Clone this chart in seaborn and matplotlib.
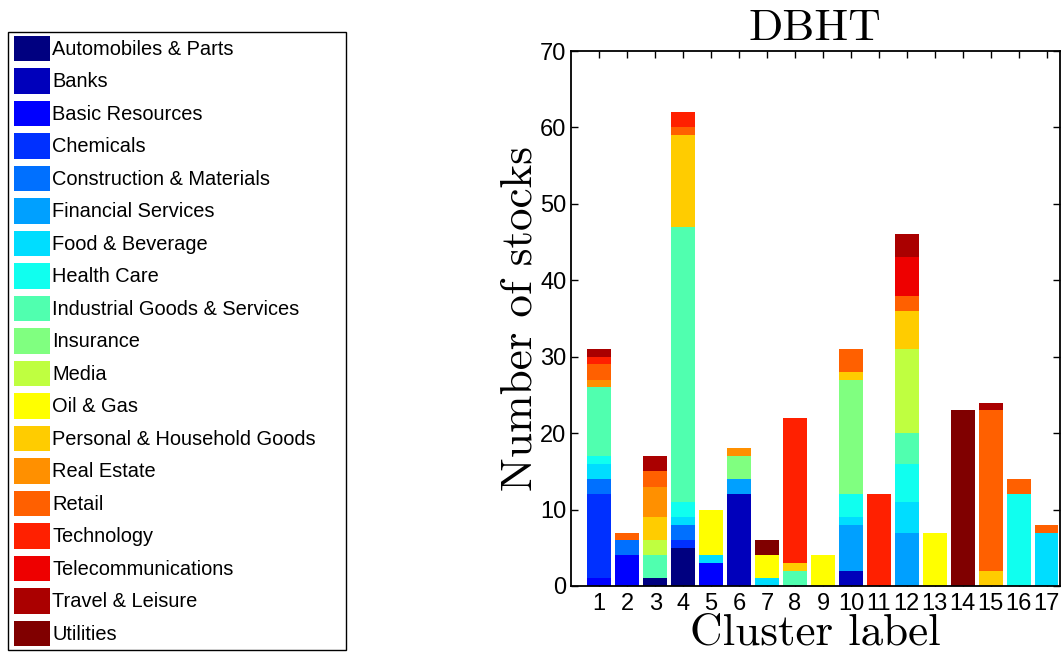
import numpy as np
import pandas as pd
import matplotlib
matplotlib.use("Agg")
import matplotlib.pyplot as plt
import seaborn as sns
from matplotlib.patches import Patch, Rectangle

# ---------------- data ----------------
clusters = list(range(1, 18))
tick_labels = [str(c) for c in clusters]

sectors = [
    "Automobiles & Parts", "Banks", "Basic Resources", "Chemicals",
    "Construction & Materials", "Financial Services", "Food & Beverage",
    "Health Care", "Industrial Goods & Services", "Insurance", "Media",
    "Oil & Gas", "Personal & Household Goods", "Real Estate", "Retail",
    "Technology", "Telecommunications", "Travel & Leisure", "Utilities",
]

#                 1   2  3   4  5   6  7   8  9  10  11  12 13  14  15  16 17
automobiles   = [ 0,  0, 1,  5, 0,  0, 0,  0, 0,  0,  0,  0, 0,  0,  0,  0, 0]
banks         = [ 0,  0, 0,  0, 0, 12, 0,  0, 0,  2,  0,  0, 0,  0,  0,  0, 0]
basic_res     = [ 1,  4, 0,  0, 3,  0, 0,  0, 0,  0,  0,  0, 0,  0,  0,  0, 0]
chemicals     = [11,  0, 0,  1, 0,  0, 0,  0, 0,  0,  0,  0, 0,  0,  0,  0, 0]
construction  = [ 2,  2, 0,  2, 0,  0, 0,  0, 0,  0,  0,  0, 0,  0,  0,  0, 0]
financial     = [ 0,  0, 0,  0, 0,  2, 0,  0, 0,  6,  0,  7, 0,  0,  0,  0, 0]
food_bev      = [ 2,  0, 0,  1, 1,  0, 1,  0, 0,  1,  0,  4, 0,  0,  0,  0, 7]
health_care   = [ 1,  0, 0,  2, 0,  0, 0,  0, 0,  3,  0,  5, 0,  0,  0, 12, 0]
industrial    = [ 9,  0, 3, 36, 0,  0, 0,  2, 0,  0,  0,  4, 0,  0,  0,  0, 0]
insurance     = [ 0,  0, 0,  0, 0,  3, 0,  0, 0, 15,  0,  0, 0,  0,  0,  0, 0]
media         = [ 0,  0, 2,  0, 0,  0, 0,  0, 0,  0,  0, 11, 0,  0,  0,  0, 0]
oil_gas       = [ 0,  0, 0,  0, 6,  0, 3,  0, 4,  0,  0,  0, 7,  0,  0,  0, 0]
personal_hh   = [ 0,  0, 3, 12, 0,  0, 0,  1, 0,  1,  0,  5, 0,  0,  2,  0, 0]
real_estate   = [ 1,  0, 4,  0, 0,  1, 0,  0, 0,  0,  0,  0, 0,  0,  0,  0, 0]
retail        = [ 2,  1, 2,  1, 0,  0, 0,  0, 0,  3,  0,  2, 0,  0, 21,  2, 1]
technology    = [ 1,  0, 0,  2, 0,  0, 0, 19, 0,  0, 12,  0, 0,  0,  0,  0, 0]
telecom       = [ 0,  0, 0,  0, 0,  0, 0,  0, 0,  0,  0,  5, 0,  0,  0,  0, 0]
travel        = [ 1,  0, 2,  0, 0,  0, 0,  0, 0,  0,  0,  3, 0,  0,  1,  0, 0]
utilities     = [ 0,  0, 0,  0, 0,  0, 2,  0, 0,  0,  0,  0, 0, 23,  0,  0, 0]

series = [automobiles, banks, basic_res, chemicals, construction, financial,
          food_bev, health_care, industrial, insurance, media, oil_gas,
          personal_hh, real_estate, retail, technology, telecom, travel,
          utilities]

# ---------------- style ----------------
sns.set_style("ticks")
plt.rcParams["font.family"] = ["Liberation Sans", "DejaVu Sans"]
plt.rcParams["text.color"] = "black"
plt.rcParams["axes.labelcolor"] = "black"
plt.rcParams["xtick.color"] = "black"
plt.rcParams["ytick.color"] = "black"
serif = "cmr10"

# jet-like colours as seen in the original figure
colors = ["#000080", "#0000BB", "#0000FF", "#0030FF", "#0070FF", "#00A0FF",
          "#00DDFF", "#10FFEF", "#50FFAF", "#80FF80", "#BFFF40", "#FFFF00",
          "#FFCC00", "#FF9000", "#FF6000", "#FF2000", "#EE0000", "#AA0000",
          "#800000"]
palette = dict(zip(sectors, colors))

rows = []
for s, vals in zip(sectors, series):
    for c, v in zip(clusters, vals):
        rows.append((c, s, v))
df = pd.DataFrame(rows, columns=["cluster", "sector", "count"])

W, H = 1062, 654
fig = plt.figure(figsize=(W / 100, H / 100), dpi=100)
ax = fig.add_axes([570.5 / W, 1 - 586 / H, (1060 - 570.5) / W, (586 - 51) / H])

# seaborn stacks the first hue level on top -> reverse so Automobiles sits at the bottom
sns.histplot(data=df, x="cluster", weights="count", hue="sector",
             hue_order=sectors[::-1], palette=palette, multiple="stack",
             discrete=True, shrink=0.85, alpha=1, linewidth=0,
             edgecolor="none", legend=False, ax=ax)

ax.set_xlim(-0.03, 17.48)
ax.set_ylim(0, 70)
ax.set_xticks(clusters)
ax.set_xticklabels(tick_labels)
ax.set_yticks(range(0, 71, 10))
ax.set_axisbelow(True)
ax.tick_params(direction="in", top=True, right=True, length=5, width=1,
               labelsize=17, colors="black")
ax.tick_params(axis="y", pad=3)
ax.tick_params(axis="x", pad=5)
for sp in ax.spines.values():
    sp.set_visible(True)
    sp.set_color("black")
    sp.set_linewidth(1.3)

ax.set_title("DBHT", fontfamily=serif, fontsize=32.5, pad=8, color="black")
ax.set_xlabel("Cluster label", fontfamily=serif, fontsize=32.5, labelpad=-1,
              color="black")
ax.set_ylabel("Number of stocks", fontfamily=serif, fontsize=32.5, va="center",
              color="black")
ax.yaxis.set_label_coords(-0.103, 0.5)

# legend (frame drawn separately so padding can match the original box)
fig.patches.append(Rectangle((8 / W, 1 - 650 / H), 338 / W, 618 / H,
                             transform=fig.transFigure, facecolor="white",
                             edgecolor="black", linewidth=1.0, zorder=0))
handles = [Patch(facecolor=c, edgecolor="none", label=s) for s, c in zip(sectors, colors)]
leg = fig.legend(handles=handles, loc="upper left",
                 bbox_to_anchor=(13.5 / W, 1 - 35.6 / H),
                 borderaxespad=0, borderpad=0, fontsize=14.4,
                 handlelength=1.8, handleheight=1.592, handletextpad=0.13,
                 labelspacing=0.345, frameon=False, labelcolor="black")

fig.savefig("out.png", dpi=100)
